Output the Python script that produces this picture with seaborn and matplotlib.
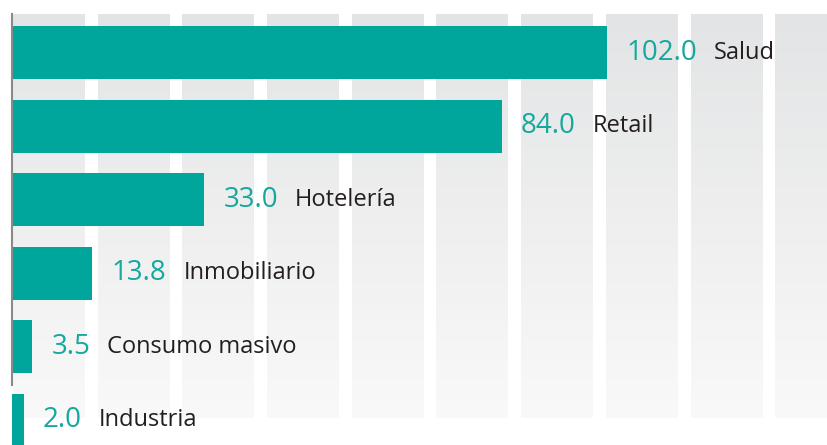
import numpy as np
import pandas as pd
import matplotlib
matplotlib.use("Agg")
import matplotlib.pyplot as plt
import seaborn as sns

sectors = ["Salud", "Retail", "Hotelería", "Inmobiliario", "Consumo masivo", "Industria"]
values = [102.0, 84.0, 33.0, 13.8, 3.5, 2.0]
value_labels = ["102.0", "84.0", "33.0", "13.8", "3.5", "2.0"]

TEAL = "#00a69c"
TEXT_TEAL = "#14a89e"
DARK = "#231f20"

sns.set_style("white")
plt.rcParams["font.family"] = ["Open Sans", "DejaVu Sans"]

W, H = 828, 445
fig = plt.figure(figsize=(W / 100, H / 100), dpi=100)

# background: vertical gray gradient stripes
bg = fig.add_axes([0, 0, 1, 1], zorder=0)
bg.set_xlim(0, W)
bg.set_ylim(H, 0)
bg.axis("off")
grad = np.linspace(0, 1, 256).reshape(-1, 1)
cmap = matplotlib.colors.LinearSegmentedColormap.from_list("g", ["#e3e4e5", "#f9f9f9"])
for k in range(10):
    x0 = 13 + 84.7 * k
    bg.imshow(grad, cmap=cmap, extent=(x0, x0 + 72, 418, 14), aspect="auto",
              interpolation="bilinear", vmin=0, vmax=1)

ax = fig.add_axes([12 / W, 0, 1 - 12 / W, 1], zorder=1)
ax.patch.set_alpha(0)

df = pd.DataFrame({"sector": sectors, "value": values})
sns.barplot(data=df, x="value", y="sector", order=sectors, color=TEAL,
            saturation=1, width=0.72, linewidth=0, edgecolor="none", ax=ax)

ax.set_xlim(0, 140)
ax.set_ylim(5.34, -0.72)
ax.set_xlabel("")
ax.set_ylabel("")
ax.set_xticks([])
ax.set_yticks([])
for s in ["top", "right", "bottom"]:
    ax.spines[s].set_visible(False)
ax.spines["left"].set_color("#8a8a8a")
ax.spines["left"].set_linewidth(1.5)
ax.spines["left"].set_bounds(4.52, -0.53)

for i, (v, vl, name) in enumerate(zip(values, value_labels, sectors)):
    t = ax.annotate(vl, xy=(v, i), xytext=(14, 0), textcoords="offset points",
                    ha="left", va="center", fontsize=20, color=TEXT_TEAL)
    ax.annotate(name, xy=(1, 0.5), xycoords=t, xytext=(12, 0),
                textcoords="offset points", ha="left", va="center",
                fontsize=17, color=DARK)

fig.savefig("out.png", dpi=100)
